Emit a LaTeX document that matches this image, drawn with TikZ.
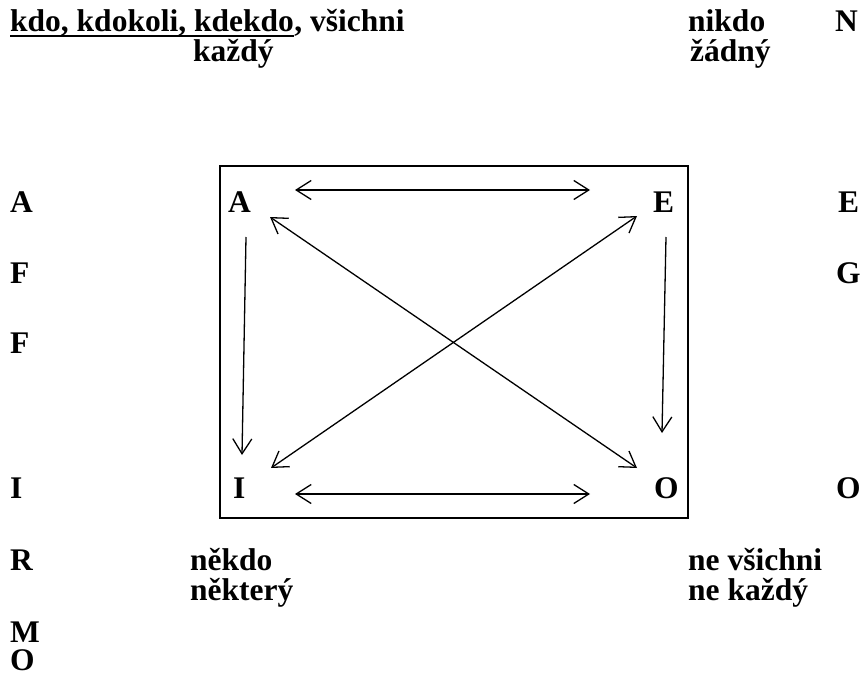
\documentclass[tikz,border=0pt]{standalone}
\usepackage{fontspec}
\setmainfont{Liberation Serif}
\usetikzlibrary{arrows.meta}

\begin{document}
\begin{tikzpicture}[
  x=1pt,y=-1pt,
  font=\fontsize{31.5}{31.5}\selectfont\bfseries,
  lbl/.style={inner sep=0pt,anchor=base west},
  tip/.style={Straight Barb[length=15pt,width=19pt]},
  arr/.style={line width=1.3pt,-{Straight Barb[length=15pt,width=19pt]}},
  darr/.style={line width=1.3pt,{Straight Barb[length=15pt,width=19pt]}-{Straight Barb[length=15pt,width=19pt]}}]
  \useasboundingbox (0,0) rectangle (863,677);
  % top row
  \node[lbl] (kdo) at (10,32) {kdo, kdokoli, kdekdo};
  \node[lbl] (vsichni) at (kdo.base east) {, všichni};
  \draw[line width=2pt] ([yshift=-4pt]kdo.base west) -- ([yshift=-4pt]kdo.base east);
  \node[lbl] (kazdy) at (193,62) {každý};
  \node[lbl] (nikdo) at (688,32) {nikdo};
  \node[lbl] (zadny) at (690,62) {žádný};
  \node[lbl] (N) at (835,32) {N};
  % left column
  \node[lbl] (lA) at (10,212) {A};
  \node[lbl] (lF1) at (10,283) {F};
  \node[lbl] (lF2) at (10,353) {F};
  \node[lbl] (lI) at (10,498) {I};
  \node[lbl] (lR) at (10,570) {R};
  \node[lbl] (lM) at (10,642) {M};
  \node[lbl] (lO) at (10,670) {O};
  % right column
  \node[lbl] (rE) at (838,212) {E};
  \node[lbl] (rG) at (836,283) {G};
  \node[lbl] (rO) at (836,498) {O};
  % square
  \draw[line width=2pt] (220,166) rectangle (688,518);
  \node[lbl] (A) at (228,212) {A};
  \node[lbl] (E) at (653,212) {E};
  \node[lbl] (I) at (233,498) {I};
  \node[lbl] (O) at (654,498) {O};
  % bottom row
  \node[lbl] (nekdo) at (190,570) {někdo};
  \node[lbl] (nektery) at (190,600) {některý};
  \node[lbl] (nevsichni) at (688,570) {ne všichni};
  \node[lbl] (nekazdy) at (688,600) {ne každý};
  % arrow ends
  \coordinate (aeL) at (295,190); \coordinate (aeR) at (590,190);
  \coordinate (ioL) at (295,494); \coordinate (ioR) at (590,494);
  \coordinate (aiT) at (246,237); \coordinate (aiB) at (242,455);
  \coordinate (eoT) at (666,237); \coordinate (eoB) at (662,433);
  \coordinate (aoT) at (270,217); \coordinate (aoB) at (637,468);
  \coordinate (eiT) at (637,216); \coordinate (eiB) at (271,468);
  \draw[darr] (aeL) -- (aeR);
  \draw[darr] (ioL) -- (ioR);
  \draw[arr] (aiT) -- (aiB);
  \draw[arr] (eoT) -- (eoB);
  \draw[darr] (aoT) -- (aoB);
  \draw[darr] (eiT) -- (eiB);
\end{tikzpicture}
\end{document}
